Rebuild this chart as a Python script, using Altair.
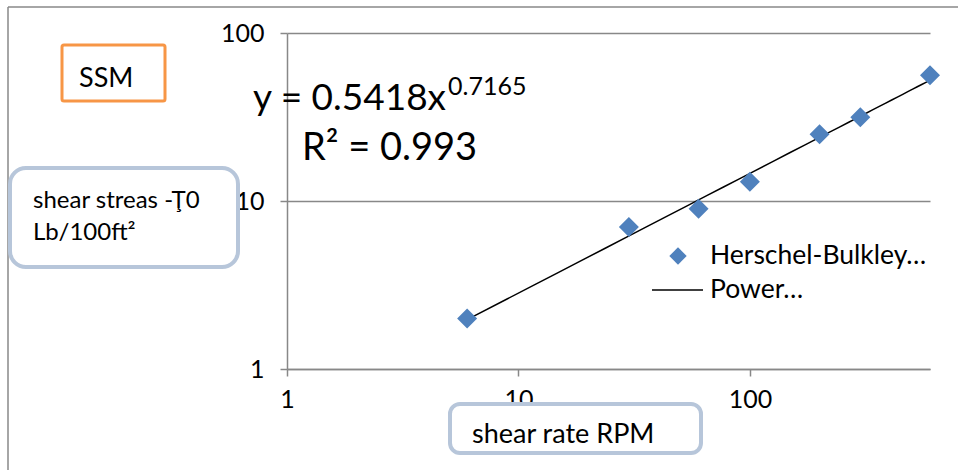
import altair as alt
import pandas as pd

# ---- data ----
shear_rate_rpm = [6, 30, 60, 100, 200, 300, 600]
shear_stress = [2.0, 7.0, 9.0, 13.0, 25.0, 31.5, 56.0]
x_ticks = [1, 10, 100]
y_ticks = [1, 10, 100]
series_labels = ["Herschel-Bulkley…", "Power…"]
equation_main = "y = 0.5418x"
equation_exp = "0.7165"
r_squared = "R² = 0.993"
title_text = "SSM"
y_title_lines = ["shear streas -Ţ0", "Lb/100ft²"]
x_title_text = "shear rate RPM"

FONT = "Lato"
GRAY = "#888888"
BLUE = "#4F81BD"
BOX = "#B7C6DA"
ORANGE = "#F79646"

df = pd.DataFrame({"x": shear_rate_rpm, "y": shear_stress})

xs = alt.Scale(type="log", domain=[1, 600], nice=False)
ys = alt.Scale(type="log", domain=[1, 100], nice=False)

xaxis = alt.Axis(values=x_ticks, grid=False, title=None, labelFontSize=25,
                 labelFont=FONT, labelColor="black", domainColor=GRAY, domainWidth=1.5,
                 tickColor=GRAY, tickWidth=1.5, tickSize=7, labelPadding=11,
                 labelFlush=False, zindex=0)
yaxis = alt.Axis(values=y_ticks, grid=True, gridColor=GRAY, gridWidth=1.5, title=None,
                 labelFontSize=25, labelFont=FONT, labelColor="black", domainColor=GRAY,
                 domainWidth=1.5, tickColor=GRAY, tickWidth=1.5, tickSize=7,
                 labelPadding=16, labelFlush=False, zindex=0)

points = alt.Chart(df).mark_point(shape="diamond", filled=True, size=400,
                                  color=BLUE, opacity=1).encode(
    x=alt.X("x:Q", scale=xs, axis=xaxis),
    y=alt.Y("y:Q", scale=ys, axis=yaxis),
)

trend = alt.Chart(df).transform_regression("x", "y", method="pow").mark_line(
    color="black", strokeWidth=1.5).encode(
    x=alt.X("x:Q", scale=xs),
    y=alt.Y("y:Q", scale=ys),
)

one = pd.DataFrame({"k": [0]})


def txt(text, x, y, size, baseline="alphabetic", align="left"):
    return alt.Chart(one).mark_text(text=text, font=FONT, fontSize=size, color="black",
                                    align=align, baseline=baseline).encode(
        x=alt.value(x), y=alt.value(y))


def rule(x, x2, y, y2, color, width):
    return alt.Chart(one).mark_rule(color=color, strokeWidth=width).encode(
        x=alt.value(x), x2=alt.value(x2), y=alt.value(y), y2=alt.value(y2))


def box(x, x2, y, y2, color, width, radius):
    return alt.Chart(one).mark_rect(fill="white", stroke=color, strokeWidth=width,
                                    cornerRadius=radius).encode(
        x=alt.value(x), x2=alt.value(x2), y=alt.value(y), y2=alt.value(y2))


layers = [
    rule(-279, 671, -26, -26, GRAY, 1.5),
    rule(-279, -279, -26, 437, GRAY, 1.5),
    trend,
    points,
    txt(equation_main, -34, 77, 37),
    txt(equation_exp, 161, 62, 25),
    txt(r_squared, 15, 127, 38),
    box(-225, -122, 12, 68, ORANGE, 3, 2),
    txt(title_text, -208, 54, 27),
    box(-277, -49, 135, 234, BOX, 4, 16),
    txt(y_title_lines[0], -254, 175, 24),
    txt(y_title_lines[1], -254, 207, 24),
    box(163, 414, 371, 420, BOX, 4, 10),
    txt(x_title_text, 185, 410, 27),
    alt.Chart(one).mark_point(shape="diamond", filled=True, size=300, color=BLUE,
                              opacity=1).encode(x=alt.value(391), y=alt.value(223)),
    txt(series_labels[0], 423, 231, 26.5),
    rule(365, 416, 257, 257, "black", 1.5),
    txt(series_labels[1], 423, 265, 26.5),
]

chart = alt.layer(*layers).properties(
    width=643, height=336,
    autosize=alt.AutoSizeParams(type="none"),
    padding={"left": 287, "top": 33, "right": 28, "bottom": 101},
    background="white",
).configure_view(stroke=None)

chart.save("out.html", embed_options={"renderer": "svg", "actions": False})
